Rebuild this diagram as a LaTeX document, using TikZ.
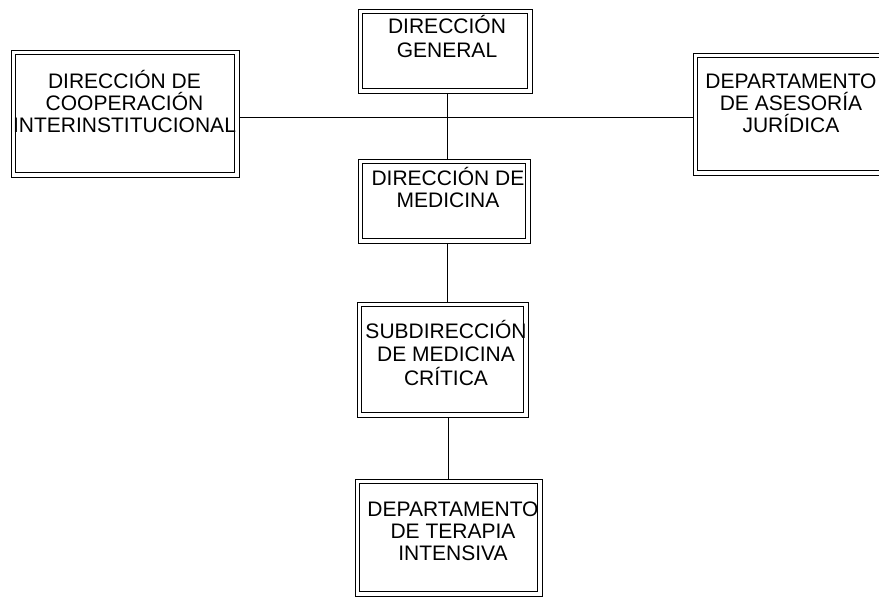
\documentclass[tikz,border=0pt]{standalone}
\usepackage{fontspec}
\setmainfont{Liberation Sans}
\usetikzlibrary{backgrounds}
\newcommand{\fs}[1]{\fontsize{21}{#1}\selectfont}
\newcommand{\tall}{\rule{0pt}{20pt}}
\begin{document}
\begin{tikzpicture}[x=1pt,y=-1pt,
  orgbox/.style={draw=black, line width=0.9pt,
    rectangle, inner sep=0pt, outer sep=0pt},
  innerline/.style={draw=black, line width=0.9pt},
  boxtext/.style={anchor=north, inner sep=0pt, align=center},
  link/.style={draw=black, line width=0.9pt}]
\useasboundingbox (0,0) rectangle (879,600);
% boxes (outer lines)
\node[orgbox, minimum width=174pt, minimum height=84pt] (B1) at (445,51) {};
\node[orgbox, minimum width=228pt, minimum height=127pt] (B2) at (125,113.5) {};
\node[orgbox, minimum width=212pt, minimum height=122pt] (B3) at (799,114) {};
\node[orgbox, minimum width=172pt, minimum height=84pt] (B4) at (444,201) {};
\node[orgbox, minimum width=171pt, minimum height=115pt] (B5) at (442.5,359.5) {};
\node[orgbox, minimum width=187pt, minimum height=117pt] (B6) at (448.5,537.5) {};
% inner lines of the double frames
\foreach \b in {B1,B2,B3,B4,B5,B6}{
  \draw[innerline] ([shift={(4.5,4.5)}]\b.north west) rectangle ([shift={(-4.5,-4.5)}]\b.south east);
}
% texts
\node[boxtext, font=\fs{24}] (T1) at (447,13) {\tall DIRECCIÓN\\GENERAL};
\node[boxtext, font=\fs{22}] (T2) at (124.5,68) {\tall DIRECCIÓN DE\\COOPERACIÓN\\INTERINSTITUCIONAL};
\node[boxtext, font=\fs{22}] (T3) at (791,68) {\tall DEPARTAMENTO\\DE ASESORÍA\\JURÍDICA};
\node[boxtext, font=\fs{22}] (T4) at (448,165) {\tall DIRECCIÓN DE\\MEDICINA};
\node[boxtext, font=\fs{23.5}] (T5) at (446,318) {\tall SUBDIRECCIÓN\\DE MEDICINA\\CRÍTICA};
\node[boxtext, font=\fs{22}] (T6) at (453,496) {\tall DEPARTAMENTO\\DE TERAPIA\\INTENSIVA};
% connectors
\coordinate (H) at (447,117);
\coordinate (V1) at (447,0);
\coordinate (V2) at (447.5,0);
\coordinate (V3) at (448,0);
\draw[link] (B2.east |- H) -- (B3.west |- H);
\draw[link] (B1.south -| V1) -- (B4.north -| V1);
\draw[link] (B4.south -| V2) -- (B5.north -| V2);
\draw[link] (B5.south -| V3) -- (B6.north -| V3);
\end{tikzpicture}
\end{document}
